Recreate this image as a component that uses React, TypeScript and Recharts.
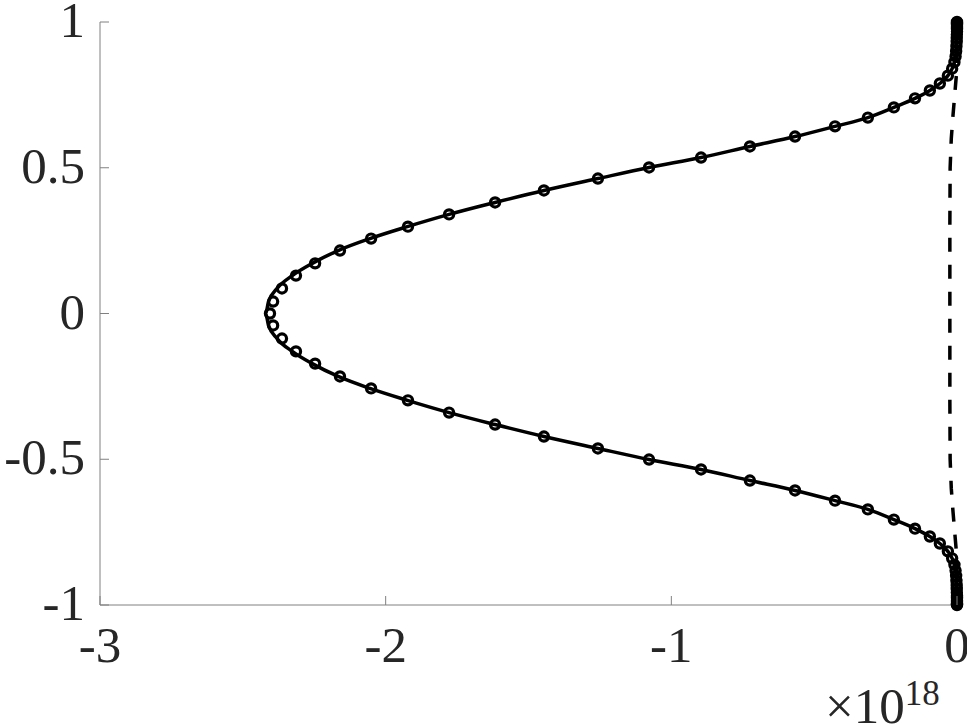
import React from 'react';
import { ComposedChart, Line, XAxis, YAxis } from 'recharts';

// Circle markers (numerical solution): upper half, from y = 1 down to y = 0 (x in units of 1e18)
const upperY = [1.0, 0.998, 0.995, 0.99, 0.984, 0.976, 0.967, 0.957, 0.945, 0.932, 0.917, 0.9, 0.882, 0.862, 0.84,
  0.816, 0.789, 0.765, 0.738, 0.707, 0.672, 0.642, 0.607, 0.573, 0.535, 0.501, 0.463, 0.422, 0.381, 0.34, 0.298,
  0.257, 0.216, 0.172, 0.13, 0.086, 0.041, 0.0];
const upperX = [0.0, 0.0, 0.0, 0.0, 0.0, 0.0, 0.0, -0.0005, -0.0008, -0.001, -0.002, -0.003, -0.005, -0.009, -0.017,
  -0.032, -0.06, -0.095, -0.147, -0.221, -0.312, -0.427, -0.567, -0.725, -0.896, -1.078, -1.257, -1.446, -1.617,
  -1.778, -1.922, -2.051, -2.16, -2.247, -2.314, -2.363, -2.394, -2.405];

// Circle markers: lower half, from y = -0.041 down to y = -1
const lowerY = [-0.041, -0.086, -0.13, -0.172, -0.216, -0.257, -0.298, -0.34, -0.381, -0.422, -0.463, -0.501, -0.535,
  -0.573, -0.607, -0.642, -0.672, -0.707, -0.738, -0.765, -0.789, -0.816, -0.84, -0.862, -0.882, -0.9, -0.917, -0.932,
  -0.945, -0.957, -0.967, -0.976, -0.984, -0.99, -0.995, -0.998, -1.0];
const lowerX = [-2.394, -2.363, -2.314, -2.247, -2.16, -2.051, -1.922, -1.778, -1.617, -1.446, -1.257, -1.078, -0.896,
  -0.725, -0.567, -0.427, -0.312, -0.221, -0.147, -0.095, -0.06, -0.032, -0.017, -0.009, -0.005, -0.003, -0.002, -0.001,
  -0.0008, -0.0005, 0.0, 0.0, 0.0, 0.0, 0.0, 0.0, 0.0];

// Solid curve (reference solution), from y = 1 down to y = -1
const solidY = [1.0, 0.95, 0.9, 0.862, 0.84, 0.816, 0.789, 0.765, 0.738, 0.707, 0.672, 0.642, 0.607, 0.573, 0.535,
  0.501, 0.463, 0.422, 0.381, 0.34, 0.298, 0.257, 0.216, 0.172, 0.13, 0.086, 0.041, 0.0, -0.041, -0.086, -0.13,
  -0.172, -0.216, -0.257, -0.298, -0.34, -0.381, -0.422, -0.463, -0.501, -0.535, -0.573, -0.607, -0.642, -0.672,
  -0.707, -0.738, -0.765, -0.789, -0.816, -0.84, -0.862, -0.9, -0.95, -1.0];
const solidX = [0.0, -0.0007, -0.003, -0.009, -0.017, -0.032, -0.06, -0.095, -0.147, -0.221, -0.312, -0.427, -0.567,
  -0.725, -0.896, -1.078, -1.257, -1.446, -1.617, -1.778, -1.924, -2.055, -2.166, -2.257, -2.327, -2.38, -2.41, -2.42,
  -2.41, -2.38, -2.327, -2.257, -2.166, -2.055, -1.924, -1.778, -1.617, -1.446, -1.257, -1.078, -0.896, -0.725,
  -0.567, -0.427, -0.312, -0.221, -0.147, -0.095, -0.06, -0.032, -0.017, -0.009, -0.003, -0.0007, 0.0];

// Dashed curve
const dashY = [1.0, 0.9, 0.82, 0.75, 0.68, 0.6, 0.5, 0.3, 0.0, -0.3, -0.5, -0.6, -0.68, -0.75, -0.82, -0.9, -1.0];
const dashX = [0.0, 0.0, -0.002, -0.008, -0.014, -0.02, -0.024, -0.025, -0.025, -0.025, -0.024, -0.02, -0.014, -0.008,
  -0.002, 0.0, 0.0];

const xTicks = [-3, -2, -1, 0];
const yTicks = [-1, -0.5, 0, 0.5, 1];

const markers = [
  ...upperY.map((y, i) => ({ x: upperX[i], y })),
  ...lowerY.map((y, i) => ({ x: lowerX[i], y })),
];
const solid = solidY.map((y, i) => ({ x: solidX[i], y }));
const dashed = dashY.map((y, i) => ({ x: dashX[i], y }));

const axisColor = '#808080';
const textColor = '#262626';
const font = 'Liberation Serif';
const fs = 51;
const tickLen = 9;
const textStyle = { fontFamily: font };

const BottomTick = (p: any) => (
  <g>
    <line x1={p.x} x2={p.x} y1={p.y} y2={p.y - tickLen} stroke={axisColor} strokeWidth={1} />
    <text x={p.x} y={p.y + 57} textAnchor="middle" fontSize={fs} fontFamily={font} style={textStyle} fill={textColor}>
      {String(p.payload.value)}
    </text>
  </g>
);
const TopTick = (p: any) => (
  <line x1={p.x} x2={p.x} y1={p.y} y2={p.y + tickLen} stroke={axisColor} strokeWidth={1} />
);
const LeftTick = (p: any) => (
  <g>
    <line x1={p.x} x2={p.x + tickLen} y1={p.y} y2={p.y} stroke={axisColor} strokeWidth={1} />
    <text x={p.x - 15} y={p.y + 15} textAnchor="end" fontSize={fs} fontFamily={font} style={textStyle} fill={textColor}>
      {String(p.payload.value)}
    </text>
  </g>
);
const RightTick = (p: any) => (
  <line x1={p.x} x2={p.x - tickLen} y1={p.y} y2={p.y} stroke={axisColor} strokeWidth={1} />
);

export default function App() {
  return (
    <div style={{ position: 'absolute', left: 0, top: 0, width: 967, height: 725, background: '#fff' }}>
      <ComposedChart width={967} height={725} margin={{ top: 22, right: 10, bottom: 0, left: 0 }}>
        <XAxis
          xAxisId="b"
          type="number"
          dataKey="x"
          domain={[-3, 0]}
          ticks={xTicks}
          interval={0}
          height={120}
          tickSize={0}
          tickMargin={0}
          tick={BottomTick}
          tickLine={false}
          axisLine={{ stroke: axisColor, strokeWidth: 1 }}
        />
        <XAxis
          xAxisId="t"
          orientation="top"
          type="number"
          dataKey="x"
          domain={[-3, 0]}
          ticks={xTicks}
          interval={0}
          height={0}
          tickSize={0}
          tickMargin={0}
          tick={TopTick}
          tickLine={false}
          axisLine={{ stroke: axisColor, strokeWidth: 1 }}
        />
        <YAxis
          yAxisId="l"
          type="number"
          dataKey="y"
          domain={[-1, 1]}
          ticks={yTicks}
          interval={0}
          width={100}
          tickSize={0}
          tickMargin={0}
          tick={LeftTick}
          tickLine={false}
          axisLine={{ stroke: axisColor, strokeWidth: 1 }}
        />
        <YAxis
          yAxisId="r"
          orientation="right"
          type="number"
          dataKey="y"
          domain={[-1, 1]}
          ticks={yTicks}
          interval={0}
          width={0}
          tickSize={0}
          tickMargin={0}
          tick={RightTick}
          tickLine={false}
          axisLine={{ stroke: axisColor, strokeWidth: 1 }}
        />
        <Line
          xAxisId="b"
          yAxisId="l"
          data={dashed}
          dataKey="y"
          type="linear"
          stroke="#000"
          strokeWidth={3.5}
          strokeDasharray="14 13"
          dot={false}
          activeDot={false}
          isAnimationActive={false}
        />
        <Line
          xAxisId="b"
          yAxisId="l"
          data={solid}
          dataKey="y"
          type="monotone"
          stroke="#000"
          strokeWidth={3.5}
          dot={false}
          activeDot={false}
          isAnimationActive={false}
        />
        <Line
          xAxisId="b"
          yAxisId="l"
          data={markers}
          dataKey="y"
          type="linear"
          stroke="none"
          dot={{ r: 4.6, stroke: '#000', strokeWidth: 3.2, fill: 'none' }}
          activeDot={false}
          isAnimationActive={false}
        />
      </ComposedChart>
      <svg width={967} height={725} style={{ position: 'absolute', left: 0, top: 0, pointerEvents: 'none' }}>
        <text x={825} y={723} fontSize={fs} fontFamily={font} style={textStyle} fill={textColor}>
          ×10
          <tspan fontSize={35} dy={-18}>18</tspan>
        </text>
      </svg>
    </div>
  );
}
